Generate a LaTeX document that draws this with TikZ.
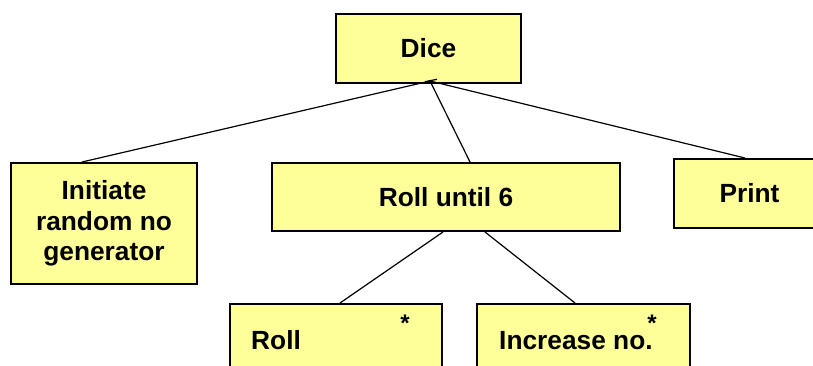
\documentclass[tikz,border=0pt]{standalone}
\usepackage{fontspec}
\setmainfont{Liberation Sans}
\usetikzlibrary{calc}
\definecolor{boxyellow}{HTML}{FFFF99}
\begin{document}
\begin{tikzpicture}[x=1pt,y=1pt,
  box/.style={draw=black, line width=2pt, fill=boxyellow, inner sep=0pt},
  lbl/.style={font=\fontsize{26.3}{30.7}\selectfont\bfseries, inner sep=0pt},
  asterisk/.style={font=\fontsize{24}{28}\selectfont\bfseries, inner sep=0pt},
  conn/.style={draw=black, line width=1.2pt}]
\useasboundingbox (0,0) rectangle (813,365);
\clip (0,0) rectangle (813,365);
\node[box, lbl, minimum width=185pt, minimum height=68pt] (dice) at (428.5,316.5) {Dice};
\node[box, lbl, align=center, minimum width=186pt, minimum height=121pt] (init) at (104,141.5) {Initiate\\random no\\generator};
\node[box, lbl, minimum width=348pt, minimum height=68pt] (roll6) at (446,168) {Roll until 6};
\node[box, lbl, minimum width=151pt, minimum height=69pt] (print) at (749.5,171.5) {Print};
\node[box, minimum width=212pt, minimum height=68pt] (roll) at (336,27) {};
\node[box, minimum width=213pt, minimum height=68pt] (incr) at (583.5,27) {};
\node[lbl, anchor=base west] (rolltxt) at (251,16) {Roll};
\node[lbl, anchor=base west] (incrtxt) at (499,16) {Increase no.};
\node[asterisk, anchor=base] (rollstar) at (405,34) {*};
\node[asterisk, anchor=base] (incrstar) at (652,34) {*};
\coordinate (apex) at ($(dice.south)+(1.5,2.5)$);
\draw[conn] (apex) -- ($(init.north)+(-22,0)$);
\draw[conn] (apex) -- ($(roll6.north)+(24,0)$);
\draw[conn] (apex) -- ($(print.north)+(-4.5,0)$);
\draw[conn] ($(apex)+(-5,-0.7)$) -- ($(apex)+(7,1.7)$);
\draw[conn] ($(roll6.south)+(-3,0)$) -- ($(roll.north)+(4,0)$);
\draw[conn] ($(roll6.south)+(39,0)$) -- ($(incr.north)+(-8.5,0)$);
\end{tikzpicture}
\end{document}
